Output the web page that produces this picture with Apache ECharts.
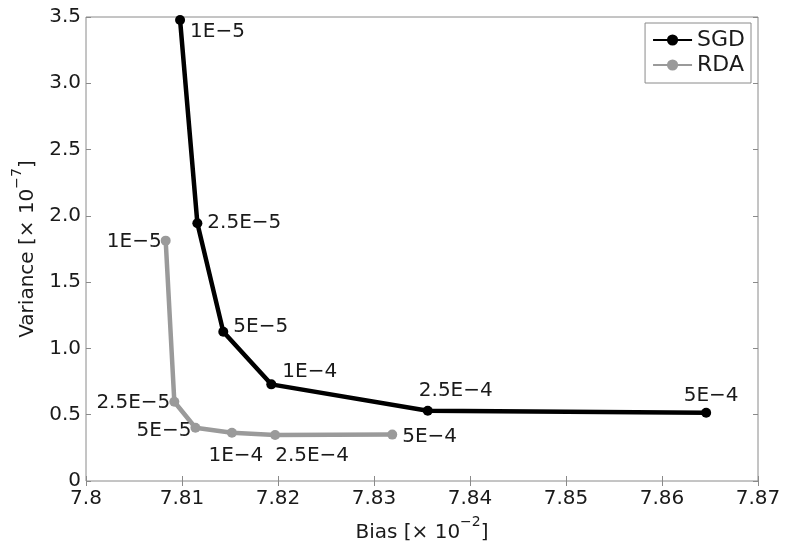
<!DOCTYPE html>
<html>
<head>
<meta charset="utf-8">
<script src="https://cdn.jsdelivr.net/npm/echarts@6/dist/echarts.min.js"></script>
<style>
html, body { margin: 0; padding: 0; background: #fff; }
#main { width: 785px; height: 551px; }
</style>
</head>
<body>
<div id="main"></div>
<script>
// 数据
var pointLabels = ["1E−5", "2.5E−5", "5E−5", "1E−4", "2.5E−4", "5E−4"];
var sgdBias = [7.8098, 7.8116, 7.8143, 7.8193, 7.8356, 7.8646];
var sgdVariance = [3.477, 1.944, 1.126, 0.729, 0.530, 0.515];
var rdaBias = [7.8083, 7.8092, 7.8114, 7.8152, 7.8197, 7.8319];
var rdaVariance = [1.813, 0.598, 0.402, 0.364, 0.347, 0.35];

// 标签位置
var sgdLabelPos = [
    {position: 'right', offset: [0, 12]},
    {position: 'right', offset: [0, 0]},
    {position: 'right', offset: [0, -5]},
    {position: 'right', offset: [1, -13]},
    {position: 'top', offset: [28, 0]},
    {position: 'top', offset: [5, 3]}
];
var rdaLabelPos = [
    {position: 'left', offset: [6, 1]},
    {position: 'left', offset: [6, 1]},
    {position: 'left', offset: [6, 3]},
    {position: 'bottom', offset: [4, 3]},
    {position: 'bottom', offset: [37, 1]},
    {position: 'right', offset: [0, 2]}
];

function buildData(xs, ys, pos) {
    var arr = [];
    for (var i = 0; i < xs.length; i++) {
        arr.push({
            value: [xs[i], ys[i]],
            label: {show: true, position: pos[i].position, offset: pos[i].offset, formatter: pointLabels[i]}
        });
    }
    return arr;
}

var font = 'DejaVu Sans, Liberation Sans, sans-serif';
var textColor = '#1a1a1a';
var frameColor = '#8a8a8a';
var fs = 20;

// 上标
var nameRich = {
    a: {fontSize: fs, lineHeight: 28, verticalAlign: 'bottom', color: textColor, fontFamily: font},
    s: {fontSize: 14, lineHeight: 14, verticalAlign: 'top', color: textColor, fontFamily: font}
};

var option = {
    animation: false,
    backgroundColor: '#fff',
    textStyle: {fontFamily: font},
    grid: {
        left: 86, right: 27, top: 17, bottom: 70,
        show: true, borderColor: frameColor, borderWidth: 1
    },
    legend: {
        right: 34, top: 23,
        orient: 'vertical',
        backgroundColor: '#fff',
        borderColor: frameColor, borderWidth: 1,
        padding: [6, 6, 7, 7],
        itemGap: 3, itemWidth: 39, itemHeight: 14,
        textStyle: {fontSize: 22, color: textColor, fontFamily: font},
        data: ['SGD', 'RDA']
    },
    xAxis: [
        {
            type: 'value', min: 7.8, max: 7.87, interval: 0.01,
            name: '{a|Bias [× 10}{s|−2}{a|]}',
            nameLocation: 'middle', nameGap: 34,
            nameTextStyle: {rich: nameRich},
            axisLine: {show: false},
            axisTick: {show: true, inside: true, length: 5, lineStyle: {color: frameColor}},
            splitLine: {show: false},
            axisLabel: {
                fontSize: fs, color: textColor, margin: 8,
                formatter: function (v) { return String(parseFloat(v.toFixed(2))); }
            }
        },
        {
            type: 'value', position: 'top', min: 7.8, max: 7.87, interval: 0.01,
            axisLine: {show: false},
            axisTick: {show: true, inside: true, length: 5, lineStyle: {color: frameColor}},
            splitLine: {show: false},
            axisLabel: {show: false}
        }
    ],
    yAxis: [
        {
            type: 'value', min: 0, max: 3.5, interval: 0.5,
            name: '{a|Variance [× 10}{s|−7}{a|]}',
            nameLocation: 'middle', nameGap: 44,
            nameTextStyle: {rich: nameRich},
            axisLine: {show: false},
            axisTick: {show: true, inside: true, length: 5, lineStyle: {color: frameColor}},
            splitLine: {show: false},
            axisLabel: {
                fontSize: fs, color: textColor, margin: 5,
                formatter: function (v) { return v === 0 ? '0' : v.toFixed(1); }
            }
        },
        {
            type: 'value', position: 'right', min: 0, max: 3.5, interval: 0.5,
            axisLine: {show: false},
            axisTick: {show: true, inside: true, length: 5, lineStyle: {color: frameColor}},
            splitLine: {show: false},
            axisLabel: {show: false}
        }
    ],
    series: [
        {
            name: 'SGD', type: 'line',
            xAxisIndex: 0, yAxisIndex: 0,
            symbol: 'circle', symbolSize: 10,
            itemStyle: {color: '#000'},
            lineStyle: {color: '#000', width: 4.5},
            label: {fontSize: fs, color: textColor, fontFamily: font},
            data: buildData(sgdBias, sgdVariance, sgdLabelPos),
            z: 3
        },
        {
            name: 'RDA', type: 'line',
            xAxisIndex: 0, yAxisIndex: 0,
            symbol: 'circle', symbolSize: 10,
            itemStyle: {color: '#9a9a9a'},
            lineStyle: {color: '#9a9a9a', width: 4.5},
            label: {fontSize: fs, color: textColor, fontFamily: font},
            data: buildData(rdaBias, rdaVariance, rdaLabelPos),
            z: 2
        }
    ]
};

var dom_chart = echarts.init(document.getElementById('main'));
dom_chart.setOption(option);
</script>
</body>
</html>
